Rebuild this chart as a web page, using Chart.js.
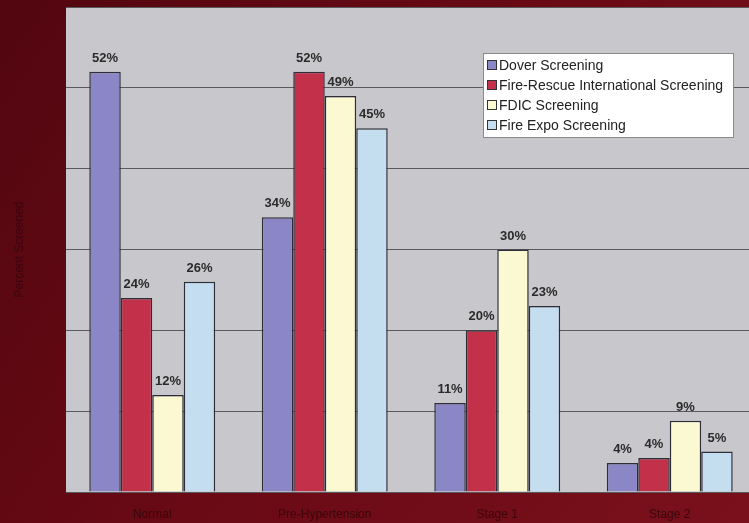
<!DOCTYPE html>
<html>
<head>
<meta charset="utf-8">
<script src="https://cdn.jsdelivr.net/npm/chart.js@4.4.0/dist/chart.umd.min.js"></script>
<style>
html,body{margin:0;padding:0;overflow:hidden;background:#650812;}
#wrap{width:760px;height:523px;position:relative;}
</style>
</head>
<body>
<div id="wrap"><canvas id="c" width="760" height="523"></canvas></div>
<script>
const categories = ["Normal", "Pre-Hypertension", "Stage 1", "Stage 2"];
const seriesNames = ["Dover Screening", "Fire-Rescue International Screening", "FDIC Screening", "Fire Expo Screening"];
const dover = [52, 34, 11, 3.6];
const fireRescue = [24, 52, 20, 4.2];
const fdic = [12, 49, 30, 8.8];
const fireExpo = [26, 45, 23, 5];
const valueLabels = [
  ["52%", "34%", "11%", "4%"],
  ["24%", "52%", "20%", "4%"],
  ["12%", "49%", "30%", "9%"],
  ["26%", "45%", "23%", "5%"]
];
const yTicks = [0, 10, 20, 30, 40, 50, 60];
const colors = ["#8b86c6", "#c2304a", "#fbf9d2", "#c4def0"];

const bgPlugin = {
  id: 'bg',
  beforeDraw(chart) {
    const {ctx, chartArea: a, width, height} = chart;
    ctx.save();
    const g = ctx.createLinearGradient(0, 0, width, height);
    g.addColorStop(0, '#520610');
    g.addColorStop(0.5, '#6a0a15');
    g.addColorStop(1, '#7a111c');
    ctx.fillStyle = g;
    ctx.fillRect(0, 0, width, height);
    ctx.fillStyle = '#c8c8cc';
    ctx.fillRect(a.left, a.top, a.right - a.left, a.bottom - a.top);
    ctx.restore();
  }
};

const labelPlugin = {
  id: 'vlabels',
  afterDatasetsDraw(chart) {
    const {ctx} = chart;
    ctx.save();
    ctx.font = 'bold 13px "Liberation Sans", Arial, sans-serif';
    ctx.fillStyle = '#2b2b2b';
    ctx.textAlign = 'center';
    ctx.textBaseline = 'bottom';
    chart.data.datasets.forEach((ds, i) => {
      chart.getDatasetMeta(i).data.forEach((bar, j) => {
        ctx.fillText(valueLabels[i][j], bar.x, bar.y - 7);
      });
    });
    ctx.restore();
  }
};

const legendPlugin = {
  id: 'boxLegend',
  afterDraw(chart) {
    const {ctx} = chart;
    const x = 483, y = 53, w = 250, h = 84;
    ctx.save();
    ctx.fillStyle = '#ffffff';
    ctx.fillRect(x, y, w, h);
    ctx.strokeStyle = '#8a8a8a';
    ctx.lineWidth = 1;
    ctx.strokeRect(x + 0.5, y + 0.5, w, h);
    ctx.font = '14px "Liberation Sans", Arial, sans-serif';
    ctx.textBaseline = 'middle';
    chart.data.datasets.forEach((ds, i) => {
      const cy = y + 12 + i * 20;
      ctx.fillStyle = ds.backgroundColor;
      ctx.fillRect(x + 4, cy - 5, 9, 9);
      ctx.strokeStyle = '#333';
      ctx.strokeRect(x + 4.5, cy - 4.5, 9, 9);
      ctx.fillStyle = '#222';
      ctx.fillText(ds.label, x + 16, cy + 1);
    });
    ctx.restore();
  }
};

const datasets = [dover, fireRescue, fdic, fireExpo].map((d, i) => ({
  label: seriesNames[i],
  data: d,
  backgroundColor: colors[i],
  borderColor: '#2e2e38',
  borderWidth: 1.5,
  barPercentage: 1,
  categoryPercentage: 0.73
}));

new Chart(document.getElementById('c'), {
  type: 'bar',
  data: { labels: categories, datasets },
  options: {
    responsive: false,
    animation: false,
    layout: { padding: { top: 7, right: 4, left: 0, bottom: 0 } },
    plugins: { legend: { display: false }, tooltip: { enabled: false } },
    scales: {
      x: {
        grid: { display: false },
        border: { display: false },
        ticks: { color: '#3a060c', font: { size: 12, family: '"Liberation Sans", Arial, sans-serif' }, padding: 7 },
        afterFit(s) { s.height = 31; }
      },
      y: {
        min: 0, max: 60,
        afterBuildTicks(s) { s.ticks = yTicks.map(v => ({ value: v })); },
        grid: { color: '#5a5a5e', lineWidth: 1, drawTicks: false },
        border: { display: false },
        ticks: { display: false },
        title: { display: true, text: 'Percent Screened', color: '#3a060c', font: { size: 12, family: '"Liberation Sans", Arial, sans-serif' }, padding: { top: 12, bottom: 4 } },
        afterFit(s) { s.width = 66; }
      }
    }
  },
  plugins: [bgPlugin, labelPlugin, legendPlugin]
});
</script>
</body>
</html>
